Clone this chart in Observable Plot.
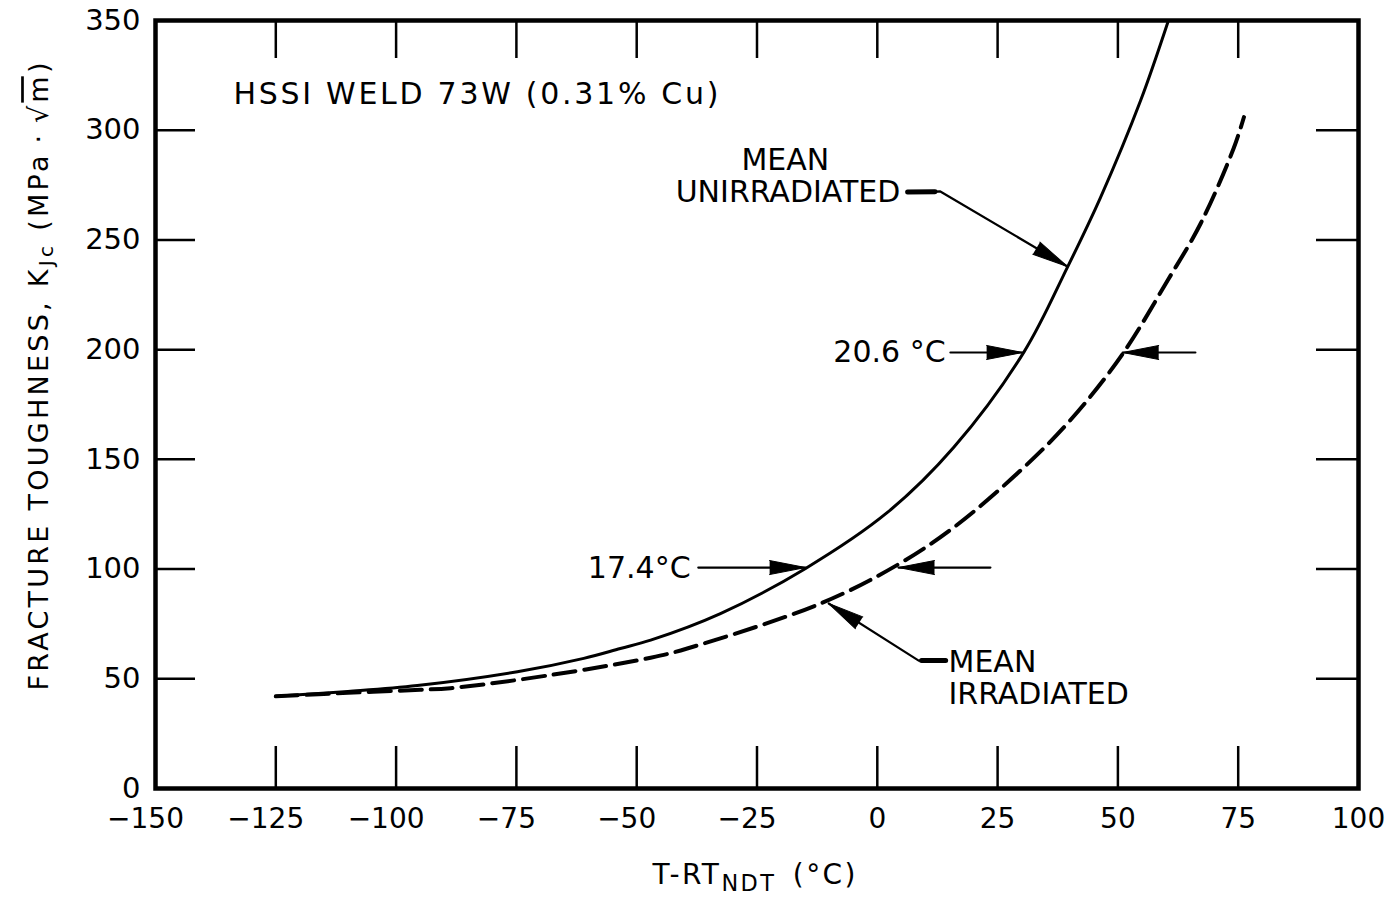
<!DOCTYPE html>
<html><head><meta charset="utf-8">
<script src="https://cdn.jsdelivr.net/npm/d3@7"></script>
<script src="https://cdn.jsdelivr.net/npm/@observablehq/plot@0.6"></script>
<style>body{margin:0;background:#fff;}</style>
</head><body><div id="chart"></div>
<script>
// ---- data ----
const unirrT = [-125, -110, -95.6, -74.8, -61, -53.4, -47.1, -32.6, -14.9, 2.1, 15.9, 30.5, 39.5, 46.4, 54.7, 60.5];
const unirrK = [42, 44.2, 46.9, 53.2, 59.3, 63.8, 67.6, 79.7, 100.3, 125.8, 155.5, 199, 237.5, 269.4, 313.4, 350];
const irrT = [-125, -110, -95, -88.7, -67.9, -47.1, -39.5, -11.8, 4.1, 15.9, 29.8, 40.1, 50.9, 60.3, 67.2, 74.1, 76.2];
const irrK = [42, 43.6, 45.0, 45.7, 51.7, 59.6, 63.8, 84.3, 101.8, 119, 145, 167.8, 197.8, 231.4, 257.5, 292, 306];

const xTicks = [-150, -125, -100, -75, -50, -25, 0, 25, 50, 75, 100];
const yTicks = [0, 50, 100, 150, 200, 250, 300, 350];
const xInner = [-125, -100, -75, -50, -25, 0, 25, 50, 75];
const yInner = [50, 100, 150, 200, 250, 300];

// annotation leaders (data coordinates), last point = arrow tip
const leaderId = ["u","u","u", "a1","a1", "a2","a2", "b1","b1", "b2","b2", "i","i","i"];
const leaderT  = [6.3, 13.1, 39.5, 15.2, 30.2, 66.1, 51.0, -37.2, -14.9, 23.5, 4.4, 14.2, 8.6, -10.1];
const leaderK  = [271.6, 272.1, 237.9, 198.7, 198.7, 198.7, 198.7, 100.7, 100.7, 100.7, 100.7, 58.3, 58.3, 84.3];
// heavier stubs next to the two curve names
const stubId = ["u", "u", "i", "i"];
const stubT  = [6.3, 12.0, 14.2, 9.2];
const stubK  = [271.8, 272.0, 58.3, 58.3];

const titleText = "HSSI WELD 73W (0.31% Cu)";
const labelText = ["MEAN", "UNIRRADIATED", "20.6 °C", "17.4°C", "MEAN", "IRRADIATED"];
const labelT = [-19.1, 4.8, 14.2, -38.8, 14.8, 14.8];
const labelK = [286.2, 271.6, 198.7, 100.3, 57.4, 42.8];
const labelAnchor = ["middle", "end", "end", "end", "start", "start"];

// ---- build tables ----
const unirr = unirrT.map((t, i) => ({T: t, K: unirrK[i]}));
const irr = irrT.map((t, i) => ({T: t, K: irrK[i]}));
const leaders = leaderT.map((t, i) => ({id: leaderId[i], T: t, K: leaderK[i]}));
const stubs = stubT.map((t, i) => ({id: stubId[i], T: t, K: stubK[i]}));
const labels = labelText.map((s, i) => ({s, T: labelT[i], K: labelK[i], a: labelAnchor[i]}));

const W = 1387, H = 900, mL = 155, mR = 29, mT = 20, mB = 112;
const pxX = (W - mL - mR) / 250, pxY = (H - mT - mB) / 350;
const heads = d3.groups(leaders, d => d.id).map(([id, pts]) => {
  const a = pts[pts.length - 2], b = pts[pts.length - 1];
  const dx = (b.T - a.T) * pxX, dy = -(b.K - a.K) * pxY;
  return {T: b.T, K: b.K, angle: Math.atan2(dx, -dy) * 180 / Math.PI};
});

const fmt = d => d < 0 ? "\u2212" + Math.abs(d) : String(d);
const font = "DejaVu Sans, sans-serif";

const chart = Plot.plot({
  width: W, height: H,
  marginLeft: mL, marginRight: mR, marginTop: mT, marginBottom: mB,
  x: {domain: [-150, 100], axis: null},
  y: {domain: [0, 350], axis: null},
  style: {fontFamily: font, background: "white", color: "black"},
  marks: [
    Plot.ruleX(xInner, {x: d => d, insetTop: H - mT - mB - 42, strokeWidth: 2.5}),
    Plot.ruleX(xInner, {x: d => d, insetBottom: H - mT - mB - 38, strokeWidth: 2.5}),
    Plot.ruleY(yInner, {y: d => d, insetRight: W - mL - mR - 40, strokeWidth: 2.5}),
    Plot.ruleY(yInner, {y: d => d, insetLeft: W - mL - mR - 42, strokeWidth: 2.5}),
    Plot.frame({strokeWidth: 4.5}),
    Plot.text(xTicks.filter(d => d < 0), {x: d => d, y: 0, dy: 31, dx: -10, text: fmt, fontSize: 28}),
    Plot.text(xTicks.filter(d => d >= 0), {x: d => d, y: 0, dy: 31, text: fmt, fontSize: 28}),
    Plot.text(yTicks, {x: -150, y: d => d, dx: -15, textAnchor: "end", text: d => String(d), fontSize: 29}),
    Plot.line(unirr, {x: "T", y: "K", curve: "catmull-rom", strokeWidth: 3}),
    Plot.line(irr, {x: "T", y: "K", curve: "catmull-rom", strokeWidth: 4, strokeDasharray: "22,9"}),
    Plot.line(leaders, {x: "T", y: "K", z: "id", strokeWidth: 2.2}),
    Plot.line(stubs, {x: "T", y: "K", z: "id", strokeWidth: 5}),
    Plot.vector(heads, {x: "T", y: "K", rotate: "angle", shape: "spike", anchor: "end", length: 36, r: 7, fill: "black", stroke: "black", strokeWidth: 1}),
    Plot.text([titleText], {x: -133.8, y: 316.3, textAnchor: "start", fontSize: 30, className: "ttl"}),
    Plot.text(labels, {x: "T", y: "K", text: "s", textAnchor: "start", fontSize: 30, filter: d => d.a === "start"}),
    Plot.text(labels, {x: "T", y: "K", text: "s", textAnchor: "middle", fontSize: 30, filter: d => d.a === "middle"}),
    Plot.text(labels, {x: "T", y: "K", text: "s", textAnchor: "end", fontSize: 30, filter: d => d.a === "end"}),
    Plot.text(["FRACTURE TOUGHNESS, K"], {frameAnchor: "left", textAnchor: "middle", dx: -116, dy: -28, rotate: -90, fontSize: 27, className: "ylab"}),
    Plot.text(["T-RT"], {frameAnchor: "bottom", textAnchor: "middle", dx: -3, dy: 95, fontSize: 28, className: "xlab"})
  ]
});

// title letter spacing like the stencil lettering
d3.select(chart).select(".ttl text").attr("textLength", 485).attr("lengthAdjust", "spacing");

// add subscripts / overline to the axis titles
const yl = d3.select(chart).select(".ylab text");
yl.text(null);
yl.append("tspan").text("FRACTURE TOUGHNESS, K");
yl.append("tspan").attr("baseline-shift", "-25%").attr("font-size", "0.75em").text("Jc");
yl.append("tspan").text(" (MPa\u2009\u00b7\u2009\u221a");
yl.append("tspan").style("text-decoration", "overline").text("m");
yl.append("tspan").text(")");
yl.attr("textLength", 628).attr("lengthAdjust", "spacing");

const xl = d3.select(chart).select(".xlab text");
xl.text(null);
xl.append("tspan").text("T-RT");
xl.append("tspan").attr("baseline-shift", "-30%").attr("font-size", "0.8em").text("NDT");
xl.append("tspan").text("\u2002(\u00b0C)");
xl.attr("textLength", 203).attr("lengthAdjust", "spacing");

document.getElementById("chart").appendChild(chart);
</script>
</body></html>
